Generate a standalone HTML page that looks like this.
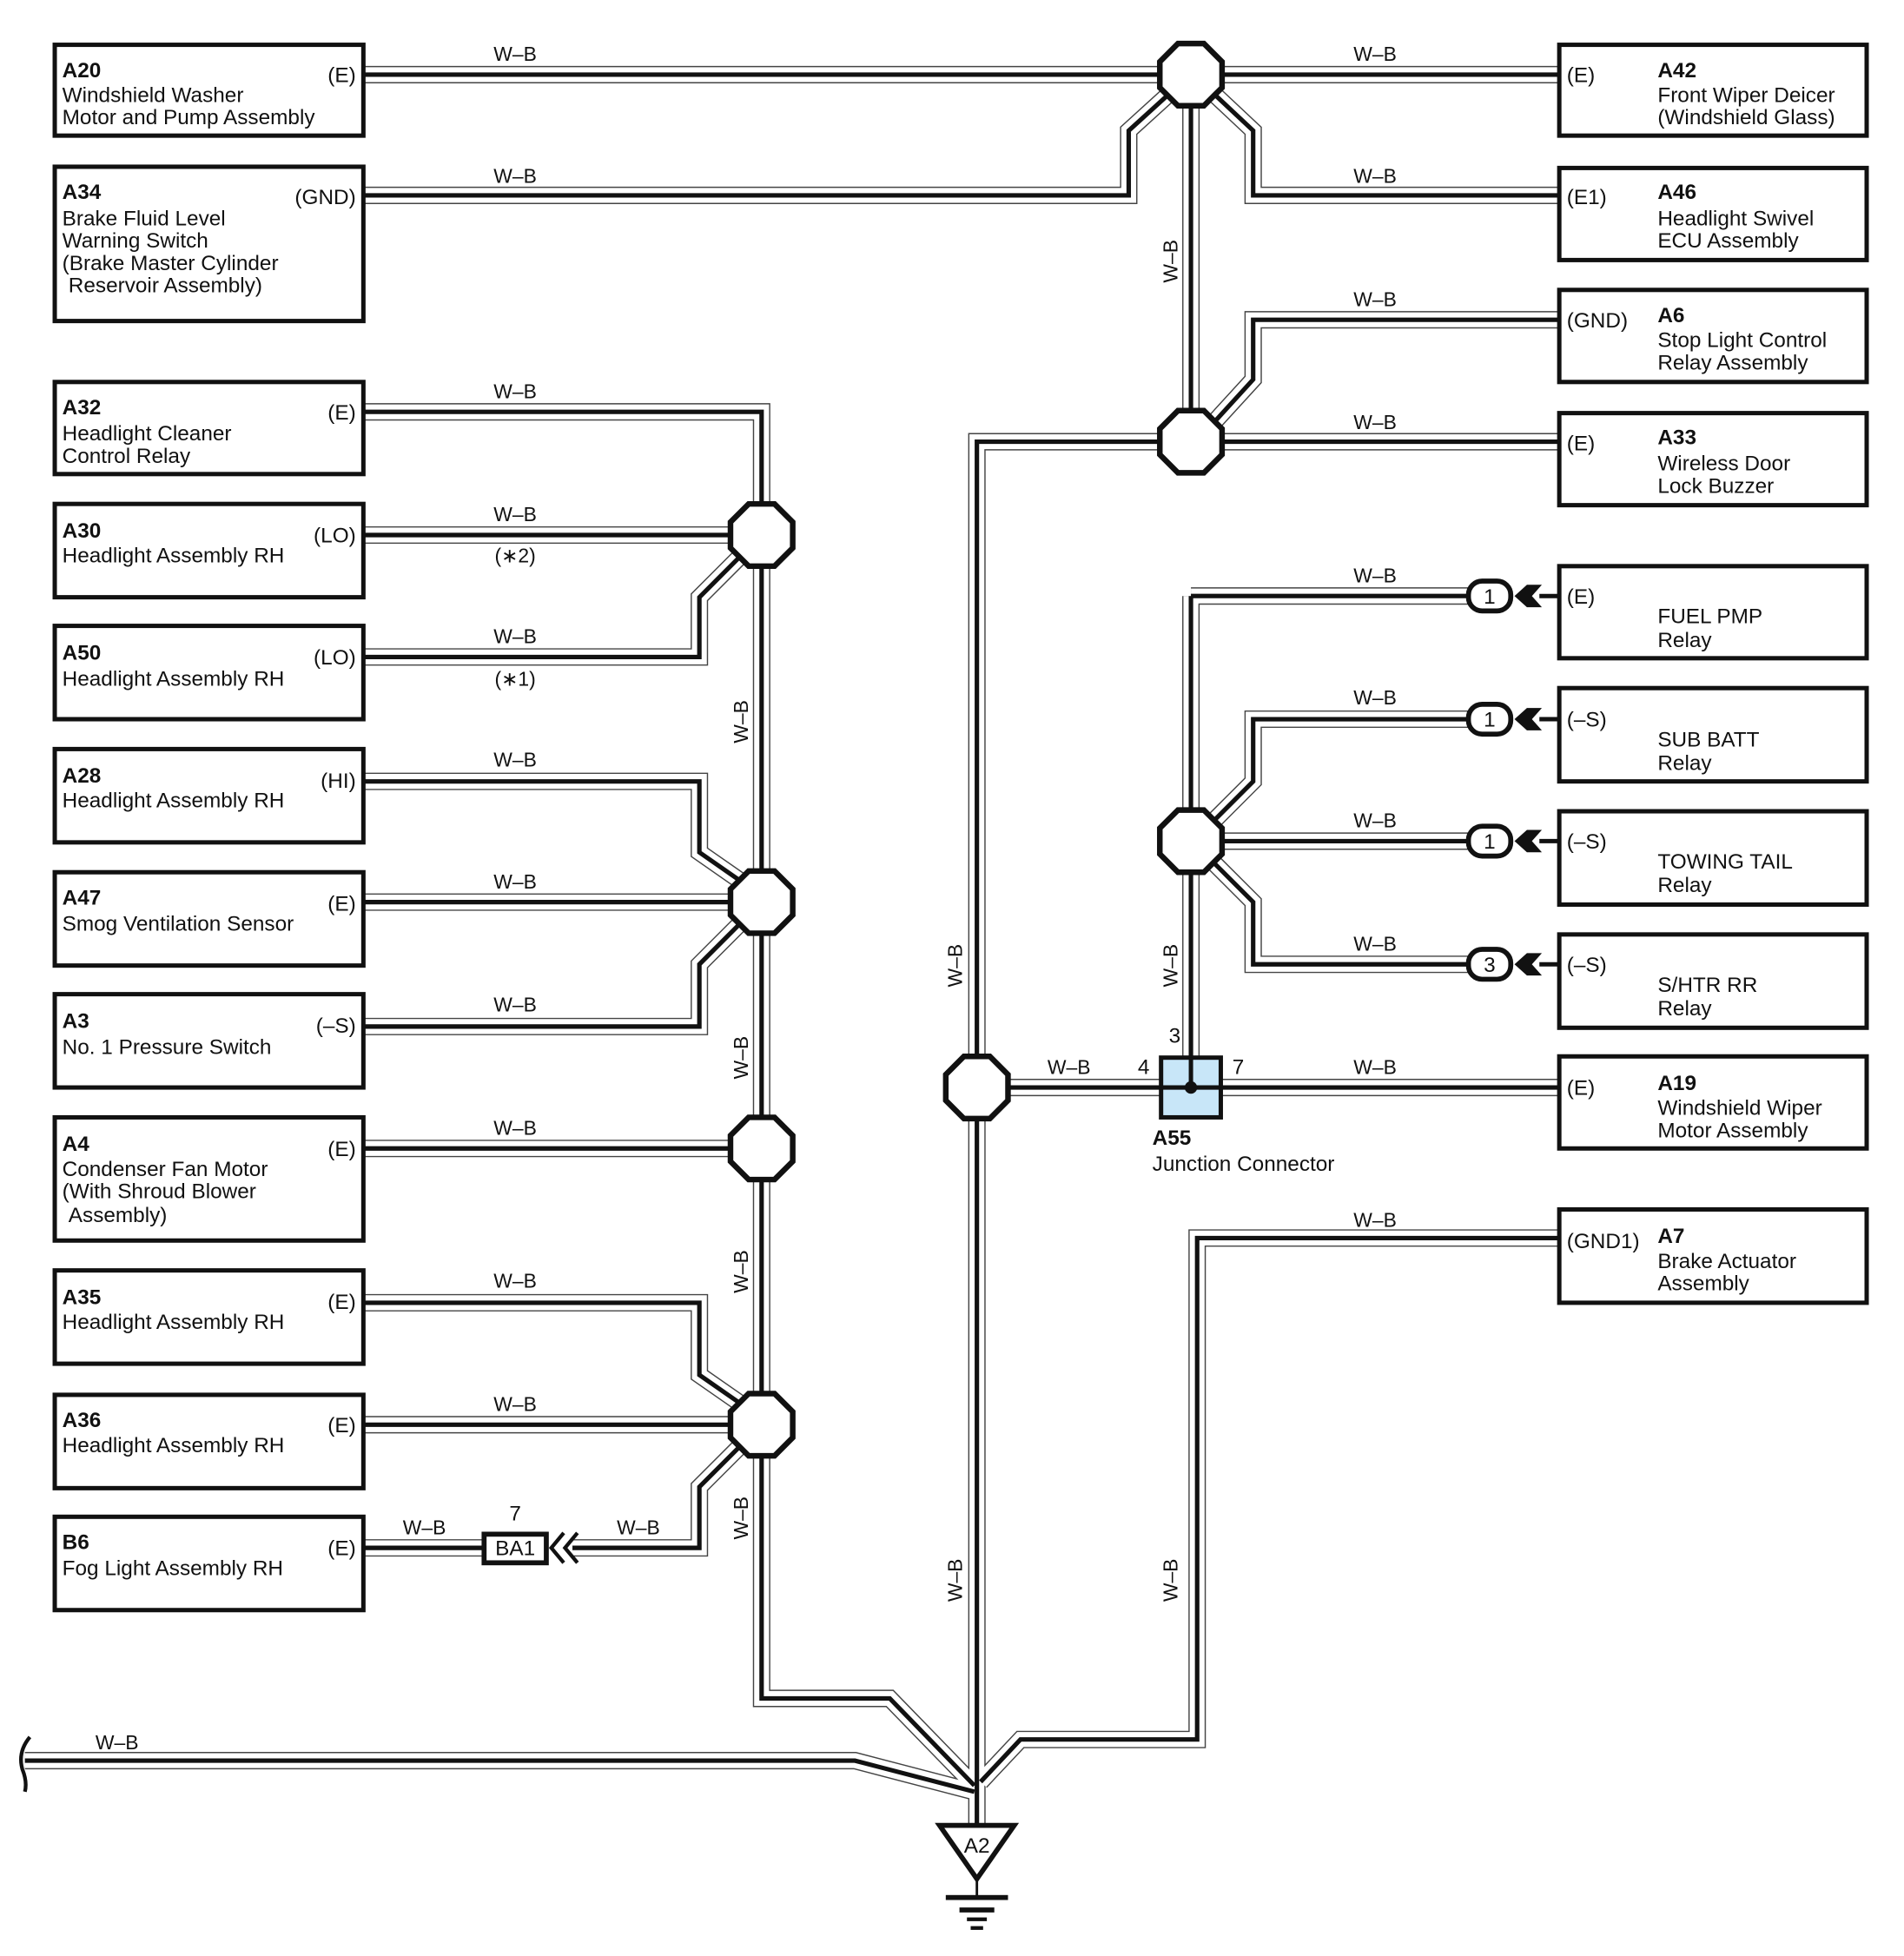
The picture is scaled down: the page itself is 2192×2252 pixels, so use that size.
<!DOCTYPE html>
<html><head><meta charset="utf-8"><style>
html,body{margin:0;padding:0;background:#fff}
svg{display:block}
text{font-family:"Liberation Sans",sans-serif;fill:#111}
.n{font-size:17px}
.b{font-size:17px;font-weight:bold}
.w{font-size:16px}
</style></head><body>
<svg width="2192" height="2252" viewBox="0 0 1530 1572" preserveAspectRatio="none" xmlns="http://www.w3.org/2000/svg">
<defs>
<g id="wires" fill="none" stroke-linejoin="miter">
<path d="M292 60 H1253"/>
<path d="M292 157 H907 V105 L940 75"/>
<path d="M957 60 V355"/>
<path d="M975 75 L1007 105 V157 H1253"/>
<path d="M975 340 L1007 305 V257 H1253"/>
<path d="M957 355 H1253"/>
<path d="M957 355 H785 V1466"/>
<path d="M292 331 H612 V1365 H715 L783 1435"/>
<path d="M292 430 H612"/>
<path d="M292 528 H562 V480 L595 447"/>
<path d="M292 628 H562 V685 L595 708"/>
<path d="M292 725 H612"/>
<path d="M292 825 H562 V775 L595 742"/>
<path d="M292 923 H612"/>
<path d="M292 1047 H562 V1105 L595 1128"/>
<path d="M292 1145 H612"/>
<path d="M292 1244 H388"/>
<path d="M460 1244 H562 V1195 L595 1162"/>
<path d="M957 479 V874"/>
<path d="M957 479 H1182"/>
<path d="M975 660 L1007 628 V578 H1182"/>
<path d="M957 676 H1182"/>
<path d="M975 693 L1007 725 V775 H1182"/>
<path d="M785 874 H1253"/>
<path d="M1253 995 H962 V1398 H820 L788 1432"/>
<path d="M20 1415 H687 L783 1440"/>
</g>
<polygon id="oct" points="-10.4,-25 10.4,-25 25,-10.4 25,10.4 10.4,25 -10.4,25 -25,10.4 -25,-10.4" fill="#fff" stroke="#111" stroke-width="4.5"/>
<g id="pill">
<rect x="-17" y="-12" width="34" height="24" rx="11" fill="#fff" stroke="#111" stroke-width="4"/>
<path d="M20 0 L30 -9 L42 -9 L34 0 L42 9 L30 9 Z" fill="#111"/>
<path d="M40 0 H56" stroke="#111" stroke-width="3.5"/>
</g>
</defs>

<use href="#wires" stroke="#444" stroke-width="14"/>
<use href="#wires" stroke="#fff" stroke-width="12"/>
<use href="#wires" stroke="#111" stroke-width="3.6"/>

<!-- left boxes -->
<g fill="none" stroke="#111" stroke-width="3.5">
<rect x="44" y="36" width="248" height="73"/>
<rect x="44" y="134" width="248" height="124"/>
<rect x="44" y="307" width="248" height="74"/>
<rect x="44" y="405" width="248" height="75"/>
<rect x="44" y="503" width="248" height="75"/>
<rect x="44" y="602" width="248" height="75"/>
<rect x="44" y="701" width="248" height="75"/>
<rect x="44" y="799" width="248" height="75"/>
<rect x="44" y="898" width="248" height="99"/>
<rect x="44" y="1021" width="248" height="75"/>
<rect x="44" y="1121" width="248" height="75"/>
<rect x="44" y="1219" width="248" height="75"/>
<rect x="1253" y="36" width="247" height="73"/>
<rect x="1253" y="135" width="247" height="74"/>
<rect x="1253" y="233" width="247" height="74"/>
<rect x="1253" y="332" width="247" height="74"/>
<rect x="1253" y="455" width="247" height="74"/>
<rect x="1253" y="553" width="247" height="75"/>
<rect x="1253" y="652" width="247" height="75"/>
<rect x="1253" y="751" width="247" height="75"/>
<rect x="1253" y="849" width="247" height="74"/>
<rect x="1253" y="972" width="247" height="75"/>
</g>

<!-- octagons -->
<use href="#oct" x="957" y="60"/>
<use href="#oct" x="957" y="355"/>
<use href="#oct" x="612" y="430"/>
<use href="#oct" x="612" y="725"/>
<use href="#oct" x="612" y="923"/>
<use href="#oct" x="612" y="1145"/>
<use href="#oct" x="785" y="874"/>
<use href="#oct" x="957" y="676"/>

<!-- A55 -->
<rect x="933" y="850" width="48" height="48" fill="#c8e6f8" stroke="#111" stroke-width="3.5"/>
<path d="M957 850 V874 M933 874 H981" stroke="#111" stroke-width="3.5"/>
<circle cx="957" cy="874" r="5" fill="#111"/>

<!-- pills -->
<use href="#pill" x="1197" y="479"/>
<use href="#pill" x="1197" y="578"/>
<use href="#pill" x="1197" y="676"/>
<use href="#pill" x="1197" y="775"/>
<g class="n" text-anchor="middle">
<text x="1197" y="485">1</text><text x="1197" y="584">1</text><text x="1197" y="682">1</text><text x="1197" y="781">3</text>
</g>

<!-- BA1 -->
<rect x="389" y="1233" width="50" height="23" fill="#fff" stroke="#111" stroke-width="4"/>
<text x="414" y="1250" class="n" text-anchor="middle">BA1</text>
<path d="M453 1232 L443 1244 L453 1256 M464 1232 L454 1244 L464 1256" fill="none" stroke="#111" stroke-width="3"/>
<text x="414" y="1222" class="n" text-anchor="middle">7</text>

<!-- ground -->
<polygon points="755,1467 815,1467 785,1510" fill="#fff" stroke="#111" stroke-width="4"/>
<text x="785" y="1489" class="n" text-anchor="middle">A2</text>
<path d="M785 1510 V1524" stroke="#111" stroke-width="2"/>
<rect x="760" y="1523" width="50" height="4" fill="#111"/>
<rect x="771" y="1533" width="28" height="4" fill="#111"/>
<rect x="777" y="1541" width="16" height="3" fill="#111"/>
<rect x="780" y="1548" width="10" height="3" fill="#111"/>
<path d="M24 1396 Q14 1408 18 1422 Q22 1432 20 1440" fill="none" stroke="#111" stroke-width="3"/>

<!-- left box text -->
<g class="n">
<text x="50" y="62" class="b">A20</text><text x="50" y="82">Windshield Washer</text><text x="50" y="100">Motor and Pump Assembly</text>
<text x="286" y="66" text-anchor="end">(E)</text>
<text x="50" y="160" class="b">A34</text><text x="50" y="181">Brake Fluid Level</text><text x="50" y="199">Warning Switch</text><text x="50" y="217">(Brake Master Cylinder</text><text x="55" y="235">Reservoir Assembly)</text>
<text x="286" y="164" text-anchor="end">(GND)</text>
<text x="50" y="333" class="b">A32</text><text x="50" y="354">Headlight Cleaner</text><text x="50" y="372">Control Relay</text>
<text x="286" y="337" text-anchor="end">(E)</text>
<text x="50" y="432" class="b">A30</text><text x="50" y="452">Headlight Assembly RH</text>
<text x="286" y="436" text-anchor="end">(LO)</text>
<text x="50" y="530" class="b">A50</text><text x="50" y="551">Headlight Assembly RH</text>
<text x="286" y="534" text-anchor="end">(LO)</text>
<text x="50" y="629" class="b">A28</text><text x="50" y="649">Headlight Assembly RH</text>
<text x="286" y="633" text-anchor="end">(HI)</text>
<text x="50" y="727" class="b">A47</text><text x="50" y="748">Smog Ventilation Sensor</text>
<text x="286" y="732" text-anchor="end">(E)</text>
<text x="50" y="826" class="b">A3</text><text x="50" y="847">No.  1 Pressure Switch</text>
<text x="286" y="830" text-anchor="end">(–S)</text>
<text x="50" y="925" class="b">A4</text><text x="50" y="945">Condenser Fan Motor</text><text x="50" y="963">(With Shroud Blower</text><text x="55" y="982">Assembly)</text>
<text x="286" y="929" text-anchor="end">(E)</text>
<text x="50" y="1048" class="b">A35</text><text x="50" y="1068">Headlight Assembly RH</text>
<text x="286" y="1052" text-anchor="end">(E)</text>
<text x="50" y="1147" class="b">A36</text><text x="50" y="1167">Headlight Assembly RH</text>
<text x="286" y="1151" text-anchor="end">(E)</text>
<text x="50" y="1245" class="b">B6</text><text x="50" y="1266">Fog Light Assembly RH</text>
<text x="286" y="1250" text-anchor="end">(E)</text>
</g>

<!-- right box text -->
<g class="n">
<text x="1259" y="66">(E)</text><text x="1332" y="62" class="b">A42</text><text x="1332" y="82">Front Wiper Deicer</text><text x="1332" y="100">(Windshield Glass)</text>
<text x="1259" y="164">(E1)</text><text x="1332" y="160" class="b">A46</text><text x="1332" y="181">Headlight Swivel</text><text x="1332" y="199">ECU Assembly</text>
<text x="1259" y="263">(GND)</text><text x="1332" y="259" class="b">A6</text><text x="1332" y="279">Stop Light Control</text><text x="1332" y="297">Relay Assembly</text>
<text x="1259" y="362">(E)</text><text x="1332" y="357" class="b">A33</text><text x="1332" y="378">Wireless Door</text><text x="1332" y="396">Lock Buzzer</text>
<text x="1259" y="485">(E)</text><text x="1332" y="501">FUEL PMP</text><text x="1332" y="520">Relay</text>
<text x="1259" y="584">(–S)</text><text x="1332" y="600">SUB BATT</text><text x="1332" y="619">Relay</text>
<text x="1259" y="682">(–S)</text><text x="1332" y="698">TOWING TAIL</text><text x="1332" y="717">Relay</text>
<text x="1259" y="781">(–S)</text><text x="1332" y="797">S/HTR RR</text><text x="1332" y="816">Relay</text>
<text x="1259" y="880">(E)</text><text x="1332" y="876" class="b">A19</text><text x="1332" y="896">Windshield Wiper</text><text x="1332" y="914">Motor Assembly</text>
<text x="1259" y="1003">(GND1)</text><text x="1332" y="999" class="b">A7</text><text x="1332" y="1019">Brake Actuator</text><text x="1332" y="1037">Assembly</text>
<text x="926" y="920" class="b">A55</text><text x="926" y="941">Junction Connector</text>
<text x="919" y="863" text-anchor="middle">4</text><text x="995" y="863" text-anchor="middle">7</text><text x="944" y="838" text-anchor="middle">3</text>
</g>

<!-- wire labels -->
<g class="w" text-anchor="middle">
<text x="414" y="49">W–B</text><text x="414" y="147">W–B</text><text x="414" y="320">W–B</text>
<text x="414" y="419">W–B</text><text x="414" y="452">(∗2)</text>
<text x="414" y="517">W–B</text><text x="414" y="551">(∗1)</text>
<text x="414" y="616">W–B</text><text x="414" y="714">W–B</text><text x="414" y="813">W–B</text>
<text x="414" y="912">W–B</text><text x="414" y="1035">W–B</text><text x="414" y="1134">W–B</text>
<text x="341" y="1233">W–B</text><text x="513" y="1233">W–B</text>
<text x="1105" y="49">W–B</text><text x="1105" y="147">W–B</text><text x="1105" y="246">W–B</text><text x="1105" y="345">W–B</text>
<text x="1105" y="468">W–B</text><text x="1105" y="566">W–B</text><text x="1105" y="665">W–B</text><text x="1105" y="764">W–B</text>
<text x="1105" y="863">W–B</text><text x="859" y="863">W–B</text><text x="1105" y="986">W–B</text>
<text x="94" y="1406">W–B</text>
<text transform="translate(601,580) rotate(-90)">W–B</text>
<text transform="translate(601,850) rotate(-90)">W–B</text>
<text transform="translate(601,1022) rotate(-90)">W–B</text>
<text transform="translate(601,1220) rotate(-90)">W–B</text>
<text transform="translate(773,776) rotate(-90)">W–B</text>
<text transform="translate(773,1270) rotate(-90)">W–B</text>
<text transform="translate(946,210) rotate(-90)">W–B</text>
<text transform="translate(946,776) rotate(-90)">W–B</text>
<text transform="translate(946,1270) rotate(-90)">W–B</text>
</g>
</svg>
</body></html>
